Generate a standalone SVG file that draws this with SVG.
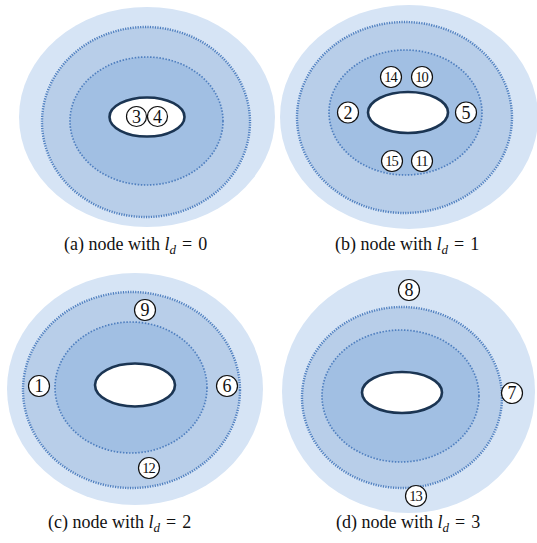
<svg xmlns="http://www.w3.org/2000/svg" width="537" height="543" viewBox="0 0 537 543">
<style>
.outer{fill:#d6e4f5;stroke:none}
.mid{fill:#b8cee9;stroke:#4f7fbf;stroke-width:2.4;stroke-dasharray:1.2 1.3}
.inn{fill:#a1bfe3;stroke:#4f7fbf;stroke-width:1.7;stroke-dasharray:1.5 1.6}
.hole{fill:#ffffff;stroke:#1b3553;stroke-width:2.6}
.nc{fill:#ffffff;stroke:#111111;stroke-width:1.2}
.nt{font-family:"Liberation Serif","Times New Roman",serif;font-size:18px;fill:#111;text-anchor:middle}
.nt2{font-family:"Liberation Serif","Times New Roman",serif;font-size:14.5px;fill:#111;text-anchor:middle;letter-spacing:-1px}
.cap{font-family:"Liberation Serif","Times New Roman",serif;font-size:18px;fill:#111}
.it{font-style:italic}
</style>
<rect width="537" height="543" fill="#ffffff"/>

<g id="panel-a">
  <ellipse class="outer" cx="147" cy="117" rx="128" ry="110"/>
  <ellipse class="mid" cx="146" cy="122" rx="104" ry="95"/>
  <ellipse class="inn" cx="146.5" cy="121" rx="76.5" ry="64"/>
  <ellipse class="hole" cx="147" cy="117" rx="37.5" ry="19.5"/>
  <text class="cap" x="64" y="250">(a) node with <tspan class="it">l</tspan><tspan class="it" font-size="13" dy="4">d</tspan><tspan dy="-4" dx="6">=</tspan><tspan dx="6">0</tspan></text>
</g>
<g id="node-3"><circle class="nc" cx="136.5" cy="116.5" r="10"/><text class="nt" x="136.5" y="122.5">3</text></g>
<g id="node-4"><circle class="nc" cx="157.5" cy="116.5" r="10"/><text class="nt" x="157.5" y="122.5">4</text></g>

<g id="panel-b">
  <ellipse class="outer" cx="409" cy="117" rx="129" ry="112"/>
  <ellipse class="mid" cx="404.5" cy="117.5" rx="107.5" ry="95.5"/>
  <ellipse class="inn" cx="405.5" cy="112.5" rx="76.5" ry="62.5"/>
  <ellipse class="hole" cx="408" cy="112.5" rx="40" ry="20.5"/>
  <text class="cap" x="335" y="250">(b) node with <tspan class="it">l</tspan><tspan class="it" font-size="13" dy="4">d</tspan><tspan dy="-4" dx="6">=</tspan><tspan dx="6">1</tspan></text>
</g>
<g id="node-14"><circle class="nc" cx="391" cy="77" r="10.5"/><text class="nt2" x="390.5" y="82">14</text></g>
<g id="node-10"><circle class="nc" cx="422" cy="77" r="10.5"/><text class="nt2" x="421.5" y="82">10</text></g>
<g id="node-2"><circle class="nc" cx="348" cy="112.5" r="10.5"/><text class="nt" x="348" y="118.5">2</text></g>
<g id="node-5"><circle class="nc" cx="466" cy="112.5" r="10.5"/><text class="nt" x="466" y="118.5">5</text></g>
<g id="node-15"><circle class="nc" cx="392" cy="161" r="10.5"/><text class="nt2" x="391.5" y="166">15</text></g>
<g id="node-11"><circle class="nc" cx="422" cy="161" r="10.5"/><text class="nt2" x="421.5" y="166">11</text></g>

<g id="panel-c">
  <ellipse class="outer" cx="135" cy="389" rx="128" ry="116"/>
  <ellipse class="mid" cx="131.5" cy="390" rx="108.5" ry="98"/>
  <ellipse class="inn" cx="131" cy="387.5" rx="76" ry="65.5"/>
  <ellipse class="hole" cx="135" cy="385" rx="40" ry="21.5"/>
  <text class="cap" x="48" y="528">(c) node with <tspan class="it">l</tspan><tspan class="it" font-size="13" dy="4">d</tspan><tspan dy="-4" dx="6">=</tspan><tspan dx="6">2</tspan></text>
</g>
<g id="node-9"><circle class="nc" cx="145" cy="310" r="10.5"/><text class="nt" x="145" y="316">9</text></g>
<g id="node-1"><circle class="nc" cx="39" cy="386" r="10.5"/><text class="nt" x="39" y="392">1</text></g>
<g id="node-6"><circle class="nc" cx="227" cy="386" r="10.5"/><text class="nt" x="227" y="392">6</text></g>
<g id="node-12"><circle class="nc" cx="149" cy="468" r="10.5"/><text class="nt2" x="148.5" y="473">12</text></g>

<g id="panel-d">
  <ellipse class="outer" cx="408.5" cy="391.5" rx="126.5" ry="121.5"/>
  <ellipse class="mid" cx="402" cy="397.5" rx="100" ry="90.5"/>
  <ellipse class="inn" cx="400.5" cy="396" rx="78.5" ry="66"/>
  <ellipse class="hole" cx="402" cy="392.5" rx="40" ry="20.5"/>
  <text class="cap" x="336" y="528">(d) node with <tspan class="it">l</tspan><tspan class="it" font-size="13" dy="4">d</tspan><tspan dy="-4" dx="6">=</tspan><tspan dx="6">3</tspan></text>
</g>
<g id="node-8"><circle class="nc" cx="409" cy="290" r="10.5"/><text class="nt" x="409" y="296">8</text></g>
<g id="node-7"><circle class="nc" cx="512" cy="393" r="10.5"/><text class="nt" x="512" y="399">7</text></g>
<g id="node-13"><circle class="nc" cx="416" cy="496" r="10.5"/><text class="nt2" x="415.5" y="501">13</text></g>

<g id="connectors"></g>
</svg>
